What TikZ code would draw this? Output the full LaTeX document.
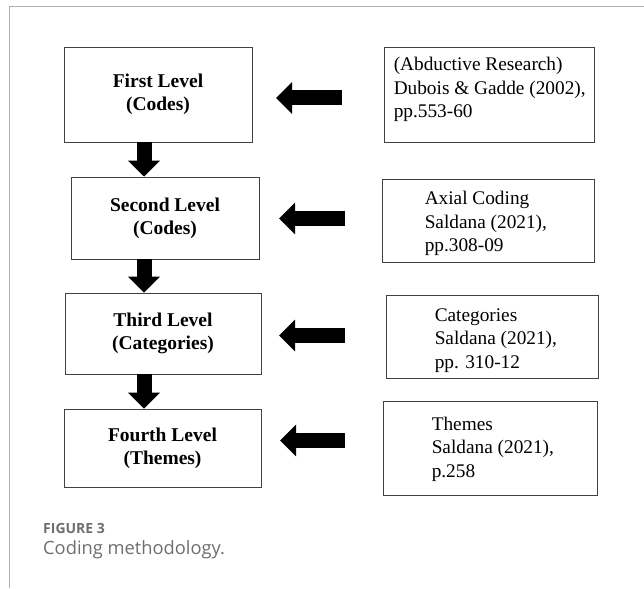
\documentclass[tikz,border=0pt]{standalone}
\usepackage{fontspec}
\setmainfont{Liberation Serif}
\newfontfamily\capfont{Open Sans}
\usetikzlibrary{arrows.meta}
\definecolor{framegray}{HTML}{B0B0B0}
\definecolor{capgray}{HTML}{6E6E6E}

\begin{document}
\begin{tikzpicture}[x=1pt,y=-1pt,
  lvl/.style={draw=black!75,line width=0.9pt,align=center,inner sep=0pt,
    font=\fontsize{19.5}{23}\selectfont\bfseries},
  refbox/.style={draw=black!75,line width=0.9pt,inner sep=0pt},
  reftxt/.style={anchor=west,align=left,inner sep=0pt,
    font=\fontsize{19.3}{23.5}\selectfont},
  blk/.style={line width=15pt,-{Triangle[length=16pt,width=31pt]}}]
\useasboundingbox (0,0) rectangle (644,588);
\draw[framegray,line width=1pt] (9.5,588) -- (9.5,7) -- (644,7);

% levels
\node[lvl,minimum width=188pt,minimum height=95pt] (b1) at (158,94.5) {First Level\\(Codes)};
\node[lvl,minimum width=188pt,minimum height=82pt] (b2) at (165,218) {Second Level\\(Codes)};
\node[lvl,minimum width=196pt,minimum height=81pt] (b3) at (163,333.5) {Third Level\\(Categories)};
\node[lvl,minimum width=197pt,minimum height=78pt] (b4) at (162.5,448) {Fourth Level\\(Themes)};

% references
\node[refbox,minimum width=210pt,minimum height=95pt] (r1) at (489,94.5) {};
\node[refbox,minimum width=212pt,minimum height=83pt] (r2) at (488,220.5) {};
\node[refbox,minimum width=212pt,minimum height=83pt] (r3) at (492,336.5) {};
\node[refbox,minimum width=214pt,minimum height=94pt] (r4) at (490,448) {};
\node[reftxt] (r1t) at ([xshift=10pt,yshift=5pt]r1.west) {(Abductive Research)\\Dubois \& Gadde (2002),\\pp.553-60};
\node[reftxt] (r2t) at ([xshift=43pt,yshift=-3pt]r2.west) {Axial Coding\\Saldana (2021),\\pp.308-09};
\node[reftxt] (r3t) at ([xshift=49pt,yshift=-4pt]r3.west) {Categories\\Saldana (2021),\\pp. 310-12};
\node[reftxt] (r4t) at ([xshift=49pt,yshift=-1pt]r4.west) {Themes\\Saldana (2021),\\p.258};

% arrows down
\coordinate (ax) at (144,0);
\draw[blk] (b1.south -| ax) -- (b2.north -| ax);
\draw[blk] (b2.south -| ax) -- (b3.north -| ax);
\draw[blk] (b3.south -| ax) -- (b4.north -| ax);

% arrows left
\coordinate (s1) at (342,98);    \coordinate (e1) at (276,98);
\coordinate (s2) at (345,218.5); \coordinate (e2) at (279,218.5);
\coordinate (s3) at (345,335.5); \coordinate (e3) at (279,335.5);
\coordinate (s4) at (345,440.5); \coordinate (e4) at (280,440.5);
\foreach \i in {1,...,4}
  \draw[blk] (s\i) -- (e\i);

% caption
\node[anchor=base west,inner sep=0pt,text=capgray,font=\capfont\bfseries\fontsize{14}{16}\selectfont] (fig) at (43,533) {FIGURE 3};
\node[anchor=base west,inner sep=0pt,text=capgray,font=\capfont\fontsize{18.3}{20}\selectfont] (cap) at (43,554) {Coding methodology.};
\end{tikzpicture}
\end{document}
